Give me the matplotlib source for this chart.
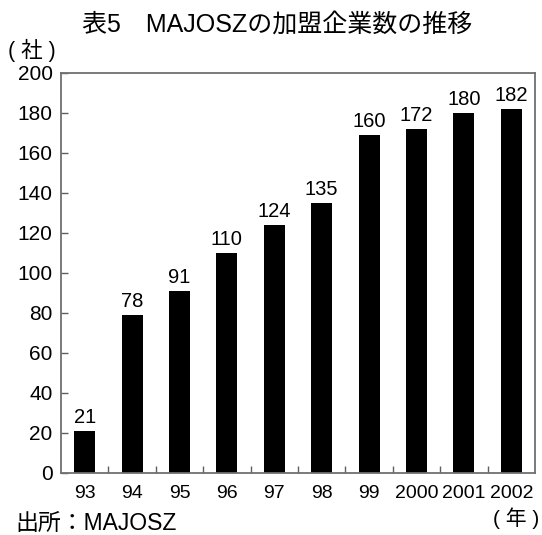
import matplotlib
matplotlib.use("Agg")
import matplotlib.pyplot as plt

FAM = ['Liberation Sans', 'Noto Sans CJK JP', 'DejaVu Sans']
plt.rcParams['font.family'] = FAM

years = ["93", "94", "95", "96", "97", "98", "99", "2000", "2001", "2002"]
bar_heights = [21, 79, 91, 110, 124, 135, 169, 172, 180, 182]
bar_labels = ["21", "78", "91", "110", "124", "135", "160", "172", "180", "182"]
yticks = [0, 20, 40, 60, 80, 100, 120, 140, 160, 180, 200]

W, H = 542, 535
fig = plt.figure(figsize=(W / 100, H / 100), dpi=100)
ax = fig.add_axes([61 / W, 1 - 473 / H, 474 / W, 400 / H])

x = list(range(len(years)))
ax.bar(x, bar_heights, width=0.44, color='black', zorder=2)
for xi, h, lab in zip(x, bar_heights, bar_labels):
    ax.annotate(lab, (xi, h), xytext=(0, 3), textcoords='offset points',
                ha='center', va='bottom', fontsize=14.5)

ax.set_xlim(-0.5, len(years) - 0.5)
ax.set_ylim(0, 200)
ax.set_yticks(yticks)
ax.set_yticklabels([str(v) for v in yticks], fontsize=15)
ax.set_xticks(x)
ax.set_xticklabels(years, fontsize=14)
ax.tick_params(axis='x', which='major', length=0, pad=9)
ax.set_xticks([i + 0.5 for i in x[:-1]], minor=True)
ax.tick_params(axis='x', which='minor', direction='in', length=5, width=1, color='#606060')
ax.tick_params(axis='y', direction='in', length=5, width=1, color='#606060', pad=6)
for s in ax.spines.values():
    s.set_color('#707070')
    s.set_linewidth(1.3)

fig.text(277 / W, 1 - 25 / H, "表5　MAJOSZの加盟企業数の推移", ha='center', va='center',
         fontsize=18)
fig.text(8 / W, 1 - 50 / H, "( 社 )", ha='left', va='center', fontsize=15.5)
fig.text(15 / W, 1 - 531 / H, "出所：MAJOSZ", ha='left', va='baseline', fontsize=16.5)
fig.text(539 / W, 1 - 518 / H, "( 年 )", ha='right', va='center', fontsize=15)

fig.savefig("out.png", dpi=100)
